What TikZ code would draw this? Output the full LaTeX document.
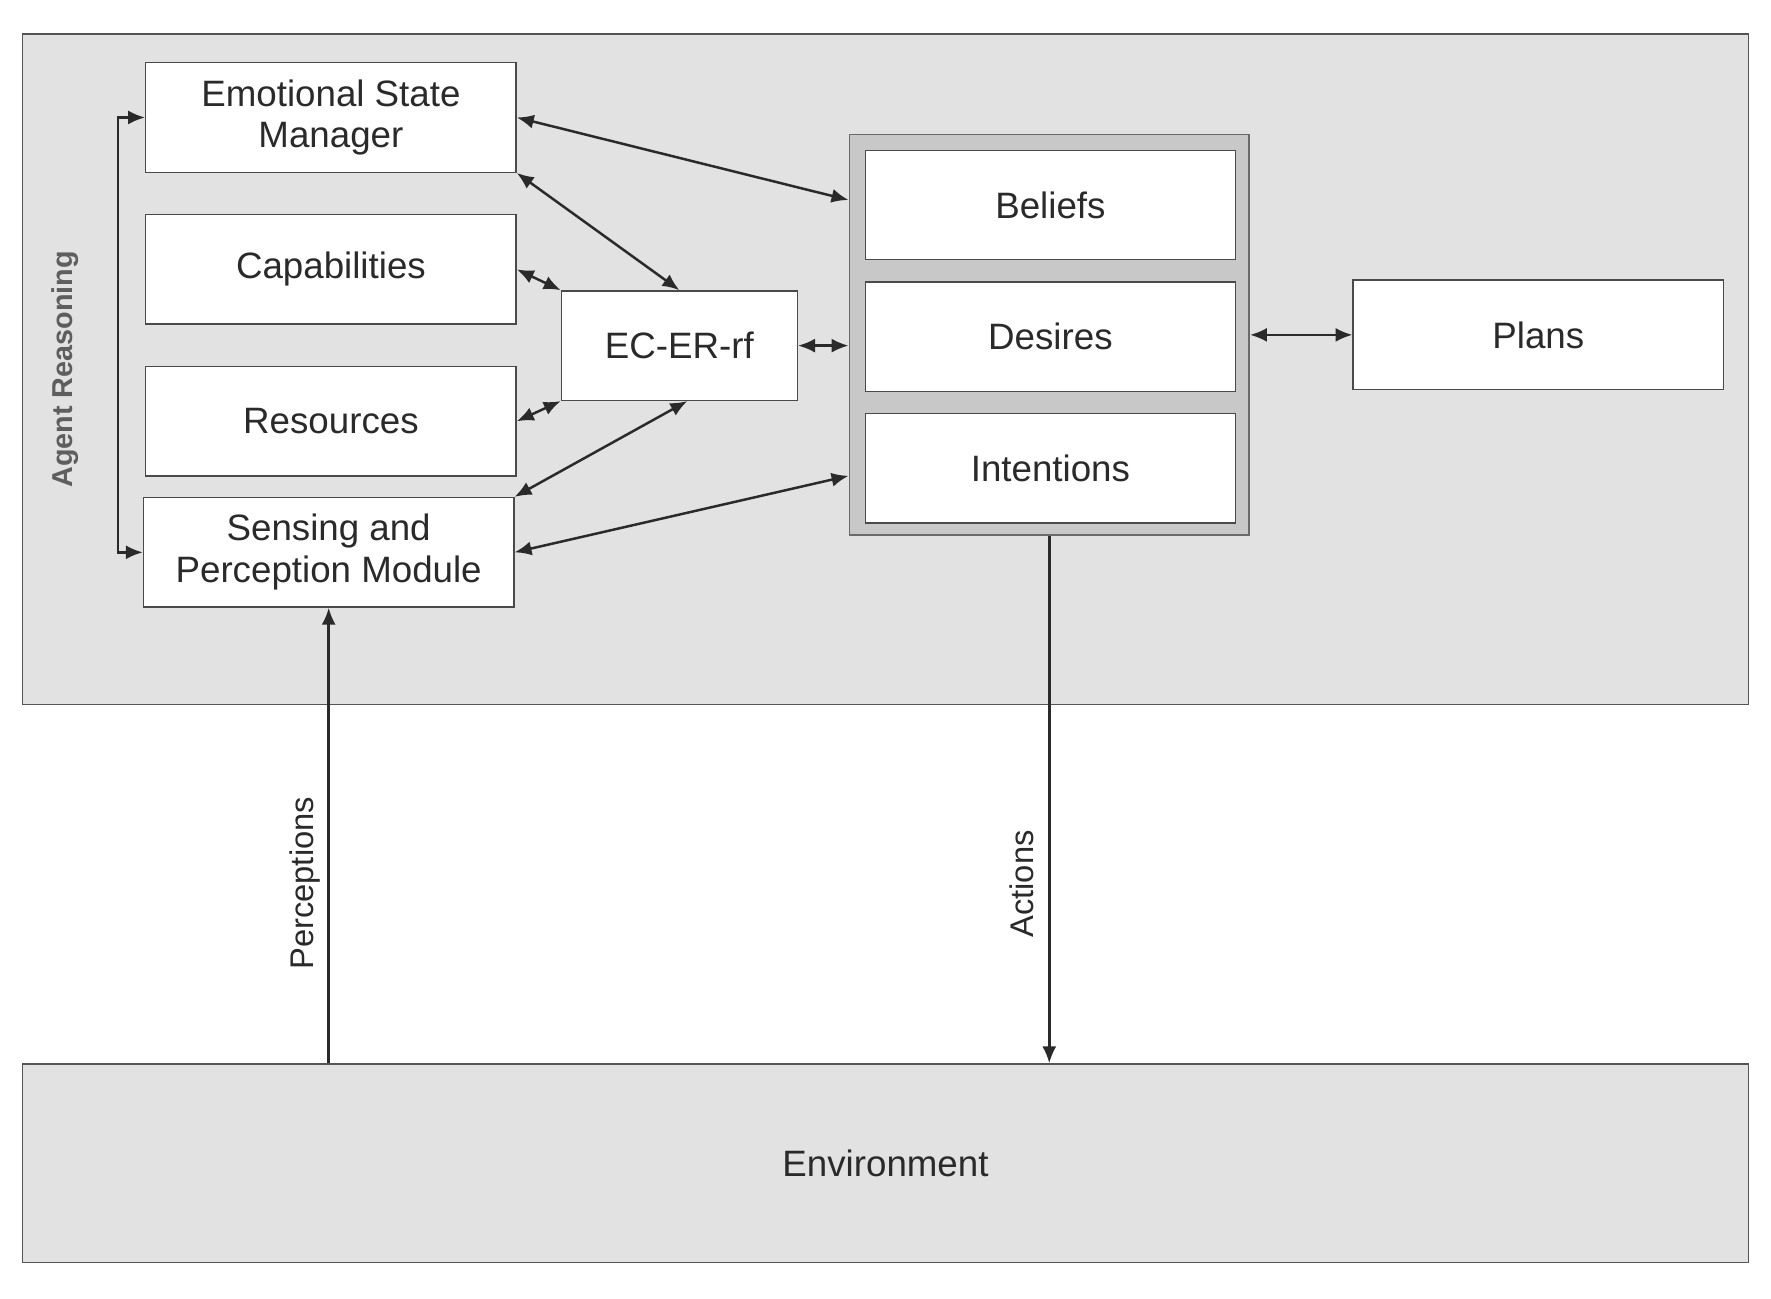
\documentclass[tikz,border=0pt]{standalone}
\usepackage{fontspec}
\setmainfont{Liberation Sans}
\usetikzlibrary{arrows.meta,calc}

\definecolor{panel}{HTML}{E2E2E2}
\definecolor{bdifill}{HTML}{C8C8C8}
\definecolor{edge}{HTML}{2A2A2A}
\definecolor{arlabel}{HTML}{5E5E5E}
\newcommand\boxfont{\fontsize{18.5}{21}\selectfont}
\newcommand\tagfont{\fontsize{16.5}{19}\selectfont}

\tikzset{
  panelbox/.style={draw=edge!80,fill=panel,line width=.7pt,inner sep=0pt},
  module/.style={draw=edge!85,fill=white,line width=.7pt,inner sep=0pt,align=center,
    minimum width=6.56cm,minimum height=1.94cm,font=\boxfont,text=edge},
  link/.style={draw=edge,line width=1.25pt,{Latex[length=.3cm,width=.25cm]}-{Latex[length=.3cm,width=.25cm]}},
  flow/.style={draw=edge,line width=1.25pt,-{Latex[length=.3cm,width=.25cm]}}
}

\begin{document}
\begin{tikzpicture}[x=.02cm,y=-.02cm]
\useasboundingbox (0,0) rectangle (1568,1150);
% agent reasoning panel and environment
\node[panelbox,minimum width=30.56cm,minimum height=11.88cm] (agent) at (784,327) {};
\node[panelbox,minimum width=30.56cm,minimum height=3.52cm,font=\boxfont,text=edge] (env) at (784,1030) {Environment};
\node[rotate=90,font=\fontsize{14.5}{17}\selectfont\bfseries,text=arlabel] (artag) at (58,327) {Agent Reasoning};
% left column
\node[module] (esm) at (293,104) {Emotional State\\Manager};
\node[module] (cap) at (293,238.5) {Capabilities};
\node[module] (res) at (293,373) {Resources};
\node[module] (sens) at (291,489) {Sensing and\\Perception Module};
\node[module,minimum width=4.18cm] (ecer) at (601.5,306) {EC-ER-rf};
% BDI block
\node[draw=edge!70,fill=bdifill,line width=.9pt,minimum width=7.08cm,minimum height=7.1cm] (bdi) at (929,296.5) {};
\node[module] (bel) at (930,181.5) {Beliefs};
\node[module] (des) at (930,298) {Desires};
\node[module] (int) at (930,414.5) {Intentions};
\node[module] (plans) at (1362,296.5) {Plans};
% connectors
\draw[link] (esm.west) -- ++(-24,0) |- (sens.west);
\draw[link] (esm.east) -- ($(bdi.north west)!.165!(bdi.south west)$);
\draw[link] (esm.south east) -- (ecer.north);
\draw[link] (cap.east) -- (ecer.north west);
\draw[link] (res.east) -- (ecer.south west);
\draw[link] (sens.north east) -- ([xshift=4]ecer.south);
\draw[link] (sens.east) -- ($(bdi.north west)!.85!(bdi.south west)$);
\draw[link] (ecer.east) -- (ecer.east -| bdi.west);
\draw[link] (bdi.east) -- (plans.west);
\draw[flow] (env.north -| sens.south) -- (sens.south)
  node[pos=.395,rotate=90,anchor=south,inner sep=.12cm,font=\tagfont,text=edge] (perc) {Perceptions};
\draw[flow] (bdi.south) -- (bdi.south |- env.north)
  node[pos=.66,rotate=90,anchor=south,inner sep=.26cm,font=\tagfont,text=edge] (act) {Actions};
\end{tikzpicture}
\end{document}
